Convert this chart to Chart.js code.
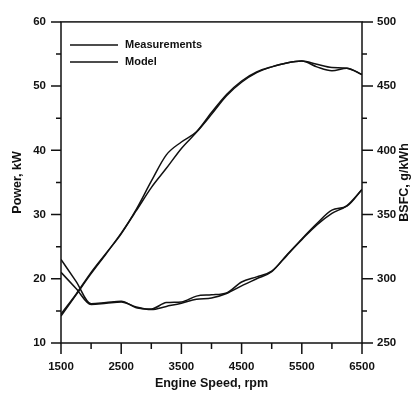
<!DOCTYPE html>
<html>
<head>
<meta charset="utf-8">
<script src="https://cdn.jsdelivr.net/npm/chart.js@4.4.1/dist/chart.umd.min.js"></script>
<style>
  html, body { margin: 0; padding: 0; background: #fff; }
  #wrap { width: 412px; height: 394px; position: relative; }
</style>
</head>
<body>
<div id="wrap"><canvas id="c" width="412" height="394"></canvas></div>
<script>
const rpm = [1500,1750,2000,2250,2500,2750,3000,3250,3500,3750,4000,4250,4500,4750,5000,5250,5500,5750,6000,6250,6500];
const powerMeasured = [14.5,17.6,21.0,24.0,27.0,30.8,35.2,39.3,41.3,42.9,45.9,48.7,50.8,52.2,53.0,53.6,53.9,53.4,52.9,52.8,51.8];
const powerModel    = [14.2,17.5,20.8,23.9,27.1,30.6,34.2,37.2,40.3,42.8,45.6,48.5,50.6,52.1,53.0,53.6,53.9,53.0,52.4,52.8,51.8];
const bsfcMeasured  = [315,298,280.5,281.5,282.5,277.5,276.5,281.5,282,286.5,287.5,289,297.5,301.5,306,318,331,343,353.5,356.5,369.5];
const bsfcModel     = [305,292.5,280,281,282,278,276,278.5,281,284,285,288.5,294.5,300,305.5,318.5,330.5,342,351,357,369.5];
const seriesNames = ['Measurements', 'Model'];
const xTitle = 'Engine Speed, rpm';
const yLeftTitle = 'Power, kW';
const yRightTitle = 'BSFC, g/kWh';

const FONT = "'Liberation Sans', Arial, sans-serif";
const INK = '#111';

function pts(ys) { return rpm.map((x, i) => ({x: x, y: ys[i]})); }
const plain = v => String(v);

const lineBase = { borderColor: INK, borderWidth: 1.5, pointRadius: 0, fill: false, cubicInterpolationMode: 'monotone' };

// draws frame, minor/major ticks, right title, and legend
const decor = {
  id: 'decor',
  afterDraw(chart) {
    const ctx = chart.ctx;
    const a = chart.chartArea;
    const sx = chart.scales.x, sl = chart.scales.yL, sr = chart.scales.yR;
    ctx.save();
    ctx.strokeStyle = INK;
    ctx.lineWidth = 1.5;
    ctx.strokeRect(a.left, a.top, a.right - a.left, a.bottom - a.top);
    ctx.beginPath();
    for (let v = sx.min; v <= sx.max + 1e-6; v += 500) {
      const p = sx.getPixelForValue(v);
      const major = ((v - 1500) % 1000) === 0;
      ctx.moveTo(p, a.bottom); ctx.lineTo(p, a.bottom + (major ? 11 : 6));
    }
    for (let v = sl.min; v <= sl.max + 1e-6; v += 5) {
      const p = sl.getPixelForValue(v);
      const major = (v % 10) === 0;
      ctx.moveTo(a.left, p); ctx.lineTo(a.left - (major ? 10 : 5), p);
    }
    for (let v = sr.min; v <= sr.max + 1e-6; v += 25) {
      const p = sr.getPixelForValue(v);
      const major = (v % 50) === 0;
      ctx.moveTo(a.right, p); ctx.lineTo(a.right + (major ? 11 : 5), p);
    }
    ctx.stroke();

    // right title, reading bottom-to-top
    ctx.fillStyle = INK;
    ctx.font = "bold 12.5px " + FONT;
    ctx.textAlign = 'center';
    ctx.textBaseline = 'middle';
    ctx.translate(405, (a.top + a.bottom) / 2);
    ctx.rotate(-Math.PI / 2);
    ctx.fillText(yRightTitle, 0, 0);
    ctx.setTransform(1, 0, 0, 1, 0, 0);

    // legend
    ctx.font = "bold 11px " + FONT;
    ctx.textAlign = 'left';
    ctx.lineWidth = 1.5;
    seriesNames.forEach((name, i) => {
      const y = a.top + 23 + i * 17;
      ctx.beginPath();
      ctx.moveTo(a.left + 9, y); ctx.lineTo(a.left + 57, y);
      ctx.stroke();
      ctx.fillText(name, a.left + 64, y);
    });
    ctx.restore();
  }
};

new Chart(document.getElementById('c'), {
  type: 'line',
  data: {
    datasets: [
      Object.assign({ label: seriesNames[0] + ' (Power)', data: pts(powerMeasured), yAxisID: 'yL' }, lineBase),
      Object.assign({ label: seriesNames[1] + ' (Power)', data: pts(powerModel), yAxisID: 'yL' }, lineBase),
      Object.assign({ label: seriesNames[0] + ' (BSFC)', data: pts(bsfcMeasured), yAxisID: 'yR' }, lineBase),
      Object.assign({ label: seriesNames[1] + ' (BSFC)', data: pts(bsfcModel), yAxisID: 'yR' }, lineBase)
    ]
  },
  options: {
    responsive: false,
    animation: false,
    layout: { padding: { top: 12, left: 0, right: 0, bottom: 0 } },
    plugins: { legend: { display: false }, tooltip: { enabled: false } },
    scales: {
      x: {
        type: 'linear', min: 1500, max: 6500,
        grid: { display: false, drawTicks: false },
        border: { display: false },
        ticks: { stepSize: 1000, callback: plain, color: INK, font: { family: FONT, size: 11.5, weight: 'bold' }, padding: 17, maxRotation: 0 },
        title: { display: true, text: xTitle, color: INK, font: { family: FONT, size: 12.5, weight: 'bold' }, padding: { top: 0, bottom: 3 } },
        afterFit(s) { s.height = 51; }
      },
      yL: {
        type: 'linear', position: 'left', min: 10, max: 60,
        grid: { display: false, drawTicks: false },
        border: { display: false },
        ticks: { stepSize: 10, callback: plain, color: INK, font: { family: FONT, size: 11.5, weight: 'bold' }, padding: 15 },
        title: { display: true, text: yLeftTitle, color: INK, font: { family: FONT, size: 12.5, weight: 'bold' }, padding: { top: 10, bottom: 0 } },
        afterFit(s) { s.width = 61; }
      },
      yR: {
        type: 'linear', position: 'right', min: 250, max: 500,
        grid: { display: false, drawTicks: false },
        border: { display: false },
        ticks: { stepSize: 50, callback: plain, color: INK, font: { family: FONT, size: 11.5, weight: 'bold' }, padding: 15 },
        afterFit(s) { s.width = 50; }
      }
    }
  },
  plugins: [decor]
});
</script>
</body>
</html>
